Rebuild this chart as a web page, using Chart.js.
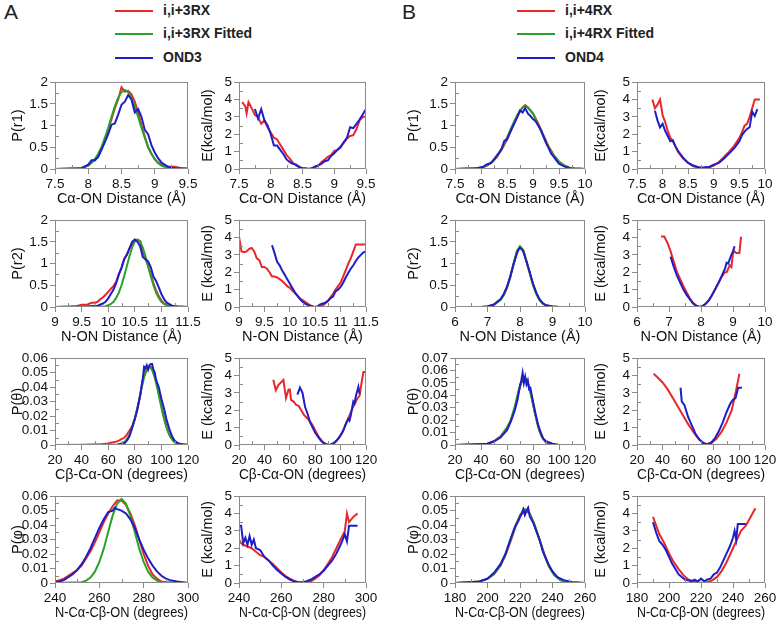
<!DOCTYPE html>
<html>
<head>
<meta charset="utf-8">
<script src="https://cdn.jsdelivr.net/npm/chart.js@4.4.1/dist/chart.umd.min.js"></script>
<style>
  body { margin: 0; background: #fff; width: 779px; height: 627px; position: relative; overflow: hidden;
         font-family: 'Liberation Sans', Arial, sans-serif; }
  canvas { position: absolute; }
  .lab { position: absolute; font-size: 21px; color: #222; }
  .leg { position: absolute; font-size: 14px; font-weight: bold; color: #222; }
  .legline { position: absolute; height: 2px; width: 38px; }
</style>
</head>
<body>
<div class="lab" style="left:4px;top:0px">A</div>
<div class="lab" style="left:402px;top:0px">B</div>
<script>
// ---- colours ----
const RED = "#e8272b";
const GREEN = "#27a327";
const BLUE = "#1d1dc9";

// ---- legend labels ----
const legendA = ["i,i+3RX", "i,i+3RX Fitted", "OND3"];
const legendB = ["i,i+4RX", "i,i+4RX Fitted", "OND4"];

// ===== A, row 1 : P(r1) =====
const a1RedX = [7.5,7.6,7.7,7.8,7.9,8.0,8.05,8.1,8.15,8.2,8.25,8.3,8.35,8.4,8.45,8.5,8.55,8.6,8.65,8.7,8.75,8.8,8.85,8.9,8.95,9.0,9.05,9.1,9.2,9.3,9.4,9.5];
const a1RedY = [0,0,0,0,0.02,0.08,0.18,0.2,0.3,0.45,0.65,0.9,1.15,1.4,1.6,1.88,1.78,1.8,1.72,1.55,1.3,1.0,0.75,0.5,0.35,0.22,0.15,0.1,0.05,0.05,0.02,0.02];
const a1GreenX = [7.5,7.9,8.0,8.05,8.1,8.15,8.2,8.25,8.3,8.35,8.4,8.45,8.5,8.55,8.6,8.65,8.7,8.75,8.8,8.85,8.9,8.95,9.0,9.05,9.1,9.2,9.3,9.5];
const a1GreenY = [0,0.02,0.08,0.14,0.23,0.35,0.51,0.72,0.95,1.2,1.44,1.64,1.77,1.82,1.77,1.64,1.44,1.2,0.95,0.72,0.51,0.35,0.23,0.14,0.08,0.02,0,0];
const a1BlueX = [7.5,7.9,8.0,8.05,8.1,8.15,8.2,8.25,8.3,8.35,8.4,8.45,8.5,8.55,8.6,8.65,8.7,8.75,8.8,8.85,8.9,8.95,9.0,9.05,9.1,9.2,9.3,9.4,9.5];
const a1BlueY = [0,0.02,0.1,0.2,0.2,0.28,0.45,0.62,0.8,1.02,1.05,1.25,1.48,1.55,1.7,1.6,1.3,1.38,1.2,0.9,0.8,0.55,0.38,0.25,0.15,0.05,0.02,0.01,0];

// ===== A, row 1 : E =====
const a2RedX = [7.55,7.6,7.62,7.65,7.7,7.75,7.8,7.85,7.9,7.95,8.0,8.05,8.1,8.15,8.2,8.25,8.3,8.35,8.4,8.45,8.5,8.55,8.6,8.65,8.7,8.75,8.8,8.85,8.9,8.95,9.0,9.05,9.1,9.15,9.2,9.25,9.3,9.35,9.4,9.45,9.5];
const a2RedY = [3.85,3.6,3.2,3.85,3.5,3.1,3.0,2.6,2.8,2.4,2.1,1.8,1.7,1.4,1.1,0.8,0.6,0.35,0.2,0.1,0,0.02,0,0.05,0.1,0.2,0.4,0.55,0.7,0.8,1.05,1.1,1.3,1.5,1.75,1.9,1.95,2.3,2.8,3.0,3.0];
const a2BlueX = [7.75,7.8,7.85,7.9,7.95,8.0,8.05,8.1,8.15,8.2,8.25,8.3,8.35,8.4,8.45,8.5,8.55,8.6,8.65,8.7,8.75,8.8,8.85,8.9,8.95,9.0,9.05,9.1,9.15,9.2,9.25,9.3,9.35,9.4,9.45,9.5];
const a2BlueY = [3.45,2.9,3.45,2.8,2.5,2.0,1.35,1.35,1.1,0.85,0.55,0.4,0.3,0.25,0.12,0.05,0.05,0,0.05,0.15,0.2,0.3,0.45,0.5,0.75,0.9,1.1,1.25,1.55,1.8,2.4,2.35,2.6,2.85,3.15,3.45];

// ===== A, row 2 : P(r2) =====
const a3RedX = [9.0,9.3,9.4,9.5,9.6,9.65,9.7,9.75,9.8,9.85,9.9,9.95,10.0,10.05,10.1,10.15,10.2,10.25,10.3,10.35,10.4,10.45,10.5,10.55,10.6,10.65,10.7,10.75,10.8,10.85,10.9,10.95,11.0,11.05,11.1,11.2,11.5];
const a3RedY = [0,0.01,0.02,0.05,0.05,0.08,0.1,0.1,0.12,0.18,0.22,0.28,0.35,0.42,0.48,0.58,0.75,0.9,1.1,1.2,1.35,1.45,1.55,1.55,1.52,1.3,1.1,0.95,0.75,0.55,0.38,0.25,0.15,0.08,0.04,0.01,0];
const a3GreenX = [9.0,9.9,9.95,10.0,10.05,10.1,10.15,10.2,10.25,10.3,10.35,10.4,10.45,10.5,10.55,10.6,10.65,10.7,10.75,10.8,10.85,10.9,10.95,11.0,11.05,11.1,11.2,11.5];
const a3GreenY = [0,0.01,0.02,0.04,0.07,0.12,0.21,0.33,0.5,0.71,0.94,1.17,1.37,1.51,1.55,1.51,1.37,1.17,0.94,0.71,0.5,0.33,0.21,0.12,0.07,0.04,0.01,0];
const a3BlueX = [9.0,9.6,9.8,9.9,9.95,10.0,10.05,10.1,10.15,10.2,10.25,10.3,10.35,10.4,10.45,10.5,10.55,10.6,10.65,10.7,10.75,10.8,10.85,10.9,10.95,11.0,11.05,11.1,11.2,11.3,11.5];
const a3BlueY = [0,0.01,0.03,0.08,0.12,0.2,0.3,0.4,0.55,0.75,0.9,1.1,1.2,1.35,1.5,1.55,1.5,1.4,1.15,1.1,1.05,0.92,0.7,0.6,0.45,0.3,0.18,0.1,0.03,0.01,0];

// ===== A, row 2 : E =====
const a4RedX = [9.0,9.05,9.1,9.15,9.2,9.25,9.3,9.35,9.4,9.45,9.5,9.55,9.6,9.65,9.7,9.75,9.8,9.85,9.9,9.95,10.0,10.05,10.1,10.15,10.2,10.25,10.3,10.35,10.4,10.45,10.5,10.55,10.6,10.65,10.7,10.75,10.8,10.85,10.9,10.95,11.0,11.05,11.1,11.15,11.2,11.25,11.3,11.35,11.4,11.45,11.5];
const a4RedY = [4.05,3.2,3.15,3.2,3.35,3.4,3.2,2.8,2.7,2.3,2.3,2.2,2.0,1.75,1.75,1.7,1.6,1.5,1.35,1.2,1.1,0.95,0.8,0.65,0.5,0.4,0.3,0.2,0.1,0.05,0,0.02,0.05,0.1,0.2,0.35,0.55,0.75,1.0,1.2,1.4,1.75,2.1,2.5,2.8,3.2,3.6,3.6,3.6,3.6,3.6];
const a4BlueX = [9.65,9.7,9.75,9.8,9.85,9.9,9.95,10.0,10.05,10.1,10.15,10.2,10.25,10.3,10.35,10.4,10.45,10.5,10.55,10.6,10.65,10.7,10.75,10.8,10.85,10.9,10.95,11.0,11.05,11.1,11.15,11.2,11.25,11.3,11.35,11.4,11.45,11.5];
const a4BlueY = [3.55,3.1,2.6,2.4,2.1,1.85,1.6,1.35,1.1,0.85,0.65,0.45,0.3,0.2,0.12,0.05,0.02,0,0.05,0.15,0.2,0.25,0.35,0.5,0.6,0.9,1.0,1.15,1.4,1.7,1.95,2.2,2.4,2.65,2.85,3.0,3.15,3.2];

// ===== A, row 3 : P(theta) =====
const a5RedX = [20,40,50,55,60,62,65,68,70,72,74,76,78,80,82,84,86,88,90,92,94,96,98,100,102,104,106,108,110,112,115,120];
const a5RedY = [0,0,0.0003,0.0005,0.001,0.0015,0.002,0.003,0.004,0.005,0.007,0.01,0.013,0.018,0.025,0.034,0.045,0.053,0.054,0.054,0.05,0.044,0.036,0.027,0.019,0.012,0.007,0.004,0.002,0.001,0.0005,0];
const a5GreenX = [20,67,71,73,75,77,79,81,83,85,87,89,91,93,95,97,99,101,103,105,107,109,111,115,120];
const a5GreenY = [0,0.0003,0.0014,0.0028,0.0052,0.009,0.0145,0.0217,0.0301,0.0389,0.0467,0.052,0.054,0.052,0.0467,0.0389,0.0301,0.0217,0.0145,0.009,0.0052,0.0028,0.0014,0.0003,0];
const a5BlueX = [20,60,66,70,72,74,76,78,80,82,84,86,87,88,89,90,91,92,93,94,95,96,98,99,100,102,104,106,108,110,112,114,116,120];
const a5BlueY = [0,0,0,0.0005,0.001,0.003,0.006,0.012,0.018,0.025,0.034,0.046,0.054,0.053,0.055,0.052,0.055,0.056,0.056,0.052,0.05,0.045,0.04,0.036,0.032,0.025,0.017,0.011,0.006,0.003,0.0015,0.0008,0.0005,0];

// ===== A, row 3 : E =====
const a6RedX = [47,49,51,53,55,57,59,60,61,63,65,67,69,71,73,75,77,79,81,83,85,87,89,91,93,95,97,99,101,103,105,107,109,111,113,115,117,118,120];
const a6RedY = [3.75,3.15,3.45,3.6,3.75,2.7,3.2,3.2,2.6,2.5,2.3,2.25,2.0,1.75,1.6,1.45,1.25,1.0,0.7,0.45,0.25,0.1,0.05,0,0.05,0.1,0.25,0.45,0.7,1.0,1.35,1.7,2.05,2.35,2.65,2.85,3.8,4.2,4.2];
const a6BlueX = [66,68,70,72,74,76,78,80,82,84,86,88,90,92,94,96,98,100,102,104,106,107,108,110,111,112,114,115];
const a6BlueY = [2.9,3.3,3.0,2.2,1.8,1.3,1.0,0.7,0.5,0.3,0.15,0.05,0,0.02,0.1,0.2,0.35,0.55,0.8,1.2,1.5,1.4,1.7,2.5,2.4,2.8,3.35,2.95];

// ===== A, row 4 : P(phi) =====
const a7RedX = [240,242,244,246,248,250,252,254,256,258,260,262,264,266,268,270,272,274,276,278,280,282,284,286,288,290,295,300];
const a7RedY = [0.001,0.002,0.003,0.005,0.007,0.009,0.012,0.017,0.022,0.028,0.035,0.042,0.048,0.053,0.057,0.057,0.054,0.048,0.04,0.03,0.02,0.012,0.006,0.003,0.001,0.0005,0,0];
const a7GreenX = [240,252,254,256,258,260,262,264,266,268,270,272,274,276,278,280,282,284,286,288,300];
const a7GreenY = [0,0.0006,0.0016,0.0038,0.0078,0.0145,0.0237,0.0352,0.0465,0.0548,0.058,0.0548,0.0465,0.0352,0.0237,0.0145,0.0078,0.0038,0.0016,0.0006,0];
const a7BlueX = [240,242,244,246,248,250,252,254,256,258,260,262,264,266,267,268,270,272,274,276,278,280,282,284,286,288,290,292,295,300];
const a7BlueY = [0.0005,0.001,0.002,0.004,0.006,0.009,0.013,0.018,0.024,0.031,0.038,0.044,0.049,0.05,0.052,0.051,0.05,0.048,0.044,0.038,0.03,0.023,0.017,0.012,0.008,0.005,0.003,0.002,0.001,0];

// ===== A, row 4 : E =====
const a8RedX = [240,242,244,246,248,250,252,254,256,258,260,262,264,266,268,270,272,274,276,278,280,282,284,286,288,290,291,292,294,296];
const a8RedY = [2.4,2.2,2.1,2.0,1.8,1.6,1.5,1.3,1.1,0.85,0.6,0.4,0.25,0.12,0.05,0,0.05,0.1,0.25,0.45,0.75,1.1,1.5,2.0,2.5,3.0,4.0,3.5,3.8,4.0];
const a8BlueX = [240,241,242,243,244,245,246,247,248,250,252,254,256,258,260,262,264,266,268,270,272,274,276,278,280,282,284,286,288,290,291,292,294,296];
const a8BlueY = [3.3,3.3,2.3,2.6,2.2,2.7,2.2,2.5,2.0,1.9,1.5,1.3,1.0,0.75,0.55,0.35,0.2,0.1,0.05,0.05,0.1,0.2,0.35,0.5,0.7,1.0,1.3,1.7,2.2,2.8,2.4,3.3,3.3,3.3];

// ===== B, row 1 : P(r1) =====
const b1RedX = [7.5,7.9,8.0,8.1,8.2,8.3,8.4,8.5,8.6,8.7,8.8,8.85,8.9,9.0,9.1,9.2,9.3,9.4,9.5,9.6,9.7,9.8,10.0];
const b1RedY = [0,0.01,0.03,0.07,0.14,0.27,0.45,0.68,0.95,1.22,1.42,1.47,1.42,1.28,1.05,0.78,0.52,0.32,0.17,0.08,0.03,0.01,0];
const b1GreenX = [7.5,8.0,8.1,8.2,8.3,8.4,8.5,8.6,8.7,8.8,8.85,8.9,9.0,9.1,9.2,9.3,9.4,9.5,9.6,9.7,9.8,10.0];
const b1GreenY = [0,0.03,0.07,0.15,0.28,0.47,0.72,1.0,1.25,1.42,1.45,1.42,1.27,1.02,0.75,0.5,0.3,0.16,0.08,0.03,0.01,0];
const b1BlueX = [7.5,7.9,8.0,8.05,8.1,8.15,8.2,8.25,8.3,8.35,8.4,8.45,8.5,8.55,8.6,8.65,8.7,8.75,8.8,8.85,8.9,8.95,9.0,9.05,9.1,9.15,9.2,9.25,9.3,9.35,9.4,9.45,9.5,9.6,9.7,9.8,10.0];
const b1BlueY = [0,0.01,0.04,0.05,0.1,0.12,0.15,0.22,0.3,0.38,0.48,0.65,0.68,0.82,0.95,1.08,1.2,1.35,1.3,1.4,1.28,1.22,1.15,1.1,1.0,0.9,0.75,0.6,0.48,0.35,0.28,0.2,0.12,0.06,0.02,0.01,0];

// ===== B, row 1 : E =====
const b2RedX = [7.8,7.85,7.9,7.95,8.0,8.05,8.1,8.15,8.2,8.25,8.3,8.35,8.4,8.5,8.6,8.7,8.8,8.85,8.9,9.0,9.1,9.2,9.3,9.4,9.5,9.55,9.6,9.65,9.7,9.75,9.8,9.85,9.9];
const b2RedY = [4.0,3.5,3.7,4.0,3.1,2.7,2.2,1.8,1.6,1.3,1.0,0.8,0.6,0.35,0.15,0.08,0.05,0.03,0.08,0.2,0.4,0.7,1.0,1.35,1.8,2.1,2.5,2.6,3.0,3.5,4.0,4.0,4.0];
const b2BlueX = [7.85,7.9,7.95,8.0,8.05,8.1,8.15,8.2,8.25,8.3,8.35,8.4,8.5,8.6,8.7,8.8,8.85,8.9,9.0,9.1,9.2,9.3,9.4,9.5,9.55,9.6,9.65,9.7,9.75,9.8,9.85];
const b2BlueY = [3.35,2.8,2.4,2.6,2.2,1.9,1.6,1.65,1.3,1.05,0.85,0.65,0.35,0.2,0.1,0.08,0.12,0.1,0.25,0.35,0.6,0.9,1.2,1.6,1.95,2.15,2.3,2.4,3.3,3.05,3.45];

// ===== B, row 2 : P(r2) =====
const b3RedX = [6.0,6.8,7.0,7.2,7.4,7.5,7.6,7.7,7.8,7.9,8.0,8.1,8.2,8.3,8.4,8.5,8.6,8.7,8.8,9.0,9.2,10.0];
const b3RedY = [0,0,0.01,0.05,0.17,0.28,0.45,0.68,0.98,1.25,1.38,1.3,1.05,0.78,0.52,0.32,0.17,0.08,0.04,0.01,0,0];
const b3GreenX = [6.0,6.8,7.0,7.2,7.4,7.5,7.6,7.7,7.8,7.9,8.0,8.1,8.2,8.3,8.4,8.5,8.6,8.7,8.8,9.0,9.2,10.0];
const b3GreenY = [0,0,0.01,0.05,0.16,0.27,0.44,0.69,1.0,1.28,1.4,1.31,1.06,0.78,0.5,0.3,0.16,0.08,0.03,0.01,0,0];
const b3BlueX = [6.0,6.8,7.0,7.2,7.4,7.5,7.6,7.7,7.8,7.9,7.95,8.0,8.05,8.1,8.2,8.3,8.4,8.5,8.6,8.7,8.8,9.0,9.2,10.0];
const b3BlueY = [0,0,0.01,0.06,0.18,0.3,0.47,0.7,0.98,1.22,1.32,1.36,1.33,1.28,1.04,0.8,0.54,0.33,0.18,0.09,0.04,0.01,0,0];

// ===== B, row 2 : E =====
const b4RedX = [6.75,6.85,6.95,7.05,7.15,7.25,7.35,7.45,7.55,7.65,7.75,7.85,7.95,8.05,8.15,8.25,8.35,8.45,8.55,8.65,8.75,8.8,8.9,8.95,9.0,9.05,9.1,9.2,9.25];
const b4RedY = [4.05,4.05,3.7,3.2,2.6,2.0,1.6,1.2,0.85,0.5,0.25,0.08,0,0.05,0.2,0.4,0.7,1.05,1.4,1.75,2.0,2.0,2.4,2.3,3.1,3.2,3.1,3.1,4.05];
const b4BlueX = [7.05,7.15,7.25,7.35,7.45,7.55,7.65,7.75,7.85,7.95,8.05,8.15,8.25,8.35,8.45,8.55,8.65,8.75,8.8,8.85,8.9,8.95,9.0,9.05];
const b4BlueY = [2.9,2.3,1.8,1.4,1.0,0.7,0.45,0.2,0.08,0,0.05,0.18,0.4,0.7,1.05,1.4,1.8,2.2,2.55,2.5,2.75,3.0,3.2,3.5];

// ===== B, row 3 : P(theta) =====
const b5RedX = [20,40,45,50,55,60,63,66,69,71,73,75,77,79,81,83,85,87,90,95,100,120];
const b5RedY = [0,0.0005,0.001,0.003,0.007,0.014,0.02,0.03,0.043,0.05,0.053,0.052,0.047,0.038,0.028,0.019,0.011,0.006,0.002,0.0005,0,0];
const b5GreenX = [20,40,45,50,55,60,63,66,69,71,73,75,77,79,81,83,85,87,90,95,100,120];
const b5GreenY = [0,0.0004,0.001,0.0028,0.0068,0.0138,0.0205,0.031,0.044,0.051,0.055,0.053,0.047,0.038,0.028,0.019,0.0115,0.0063,0.0022,0.0004,0,0];
const b5BlueX = [20,45,50,55,60,63,66,68,70,71,72,73,74,75,76,77,78,80,82,84,86,88,90,95,100,120];
const b5BlueY = [0,0.001,0.003,0.006,0.012,0.019,0.028,0.036,0.048,0.052,0.058,0.05,0.055,0.049,0.052,0.045,0.046,0.035,0.025,0.016,0.01,0.005,0.003,0.001,0,0];

// ===== B, row 3 : E =====
const b6RedX = [33,36,40,44,48,52,56,60,64,68,72,75,78,82,86,90,94,97,100];
const b6RedY = [4.1,3.9,3.6,3.2,2.7,2.2,1.7,1.2,0.75,0.35,0.1,0.05,0.1,0.35,0.75,1.3,2.0,3.0,4.1];
const b6BlueX = [54,55,57,60,63,66,69,72,75,78,81,84,87,90,93,95,97,99,102];
const b6BlueY = [3.3,2.5,2.3,1.6,1.1,0.6,0.3,0.1,0.05,0.15,0.4,0.8,1.3,1.9,2.4,2.6,2.7,3.3,3.3];

// ===== B, row 4 : P(phi) =====
const b7RedX = [180,190,195,200,204,208,211,214,217,220,223,226,229,232,235,238,241,245,250,260];
const b7RedY = [0,0.0005,0.001,0.003,0.006,0.012,0.019,0.028,0.038,0.046,0.05,0.048,0.04,0.03,0.02,0.011,0.006,0.002,0.0005,0];
const b7GreenX = [180,190,195,200,204,208,211,214,217,220,223,226,229,232,235,238,241,245,250,260];
const b7GreenY = [0,0.0004,0.001,0.0028,0.0062,0.0125,0.0195,0.029,0.039,0.047,0.051,0.048,0.04,0.03,0.0195,0.011,0.0055,0.0018,0.0004,0];
const b7BlueX = [180,195,200,204,208,211,214,217,219,221,222,223,224,225,226,228,230,232,234,237,240,243,247,252,260];
const b7BlueY = [0,0.001,0.003,0.007,0.013,0.02,0.03,0.039,0.043,0.048,0.051,0.047,0.05,0.052,0.046,0.042,0.036,0.03,0.022,0.014,0.008,0.004,0.002,0.0005,0];

// ===== B, row 4 : E =====
const b8RedX = [190,192,194,197,200,203,206,209,212,215,218,221,224,227,230,233,236,239,242,245,248,251,254];
const b8RedY = [3.8,3.3,2.8,2.3,1.7,1.2,0.8,0.45,0.2,0.1,0.05,0,0.05,0.15,0.35,0.7,1.2,1.8,2.4,3.0,3.3,3.8,4.3];
const b8BlueX = [190,191,192,194,196,198,200,202,204,206,208,210,212,214,216,218,220,222,224,226,228,230,232,234,236,238,240,241,242,243,246,248];
const b8BlueY = [3.5,3.2,2.9,2.4,2.2,1.9,1.5,1.1,0.8,0.5,0.35,0.2,0.15,0.1,0.2,0.1,0.25,0.1,0.2,0.25,0.5,0.6,0.9,1.3,1.7,2.1,2.6,3.0,2.5,3.4,3.4,3.4];

// ---- axis titles ----
const xTitles = ["Cα-ON Distance (Å)", "N-ON Distance (Å)", "Cβ-Cα-ON (degrees)", "N-Cα-Cβ-ON (degrees)"];

// ---- panel layout (plot-area box in page pixels) ----
const colLeft = [55, 239, 455, 637];
const colWidth = [133, 127, 130, 128];
const colYAxisW = [50, 44, 54, 49];
const rowTop = [82, 220, 358, 496];
const PLOT_H = 87;

const panels = [
  {c:0,r:0, x:[7.5,9.5,0.5], y:[0,2,0.5], yt:"P(r1)", s:[[a1RedX,a1RedY,RED],[a1GreenX,a1GreenY,GREEN],[a1BlueX,a1BlueY,BLUE]]},
  {c:1,r:0, x:[7.5,9.5,0.5], y:[0,5,1], yt:"E(kcal/mol)", s:[[a2RedX,a2RedY,RED],[a2BlueX,a2BlueY,BLUE]]},
  {c:0,r:1, x:[9,11.5,0.5], y:[0,2,0.5], yt:"P(r2)", s:[[a3RedX,a3RedY,RED],[a3GreenX,a3GreenY,GREEN],[a3BlueX,a3BlueY,BLUE]]},
  {c:1,r:1, x:[9,11.5,0.5], y:[0,5,1], yt:"E (kcal/mol)", s:[[a4RedX,a4RedY,RED],[a4BlueX,a4BlueY,BLUE]]},
  {c:0,r:2, x:[20,120,20], y:[0,0.06,0.01], yt:"P(θ)", s:[[a5RedX,a5RedY,RED],[a5GreenX,a5GreenY,GREEN],[a5BlueX,a5BlueY,BLUE]]},
  {c:1,r:2, x:[20,120,20], y:[0,5,1], yt:"E (kcal/mol)", s:[[a6RedX,a6RedY,RED],[a6BlueX,a6BlueY,BLUE]]},
  {c:0,r:3, x:[240,300,20], y:[0,0.06,0.01], yt:"P(φ)", s:[[a7RedX,a7RedY,RED],[a7GreenX,a7GreenY,GREEN],[a7BlueX,a7BlueY,BLUE]]},
  {c:1,r:3, x:[240,300,20], y:[0,5,1], yt:"E (kcal/mol)", s:[[a8RedX,a8RedY,RED],[a8BlueX,a8BlueY,BLUE]]},
  {c:2,r:0, x:[7.5,10,0.5], y:[0,2,0.5], yt:"P(r1)", s:[[b1RedX,b1RedY,RED],[b1GreenX,b1GreenY,GREEN],[b1BlueX,b1BlueY,BLUE]]},
  {c:3,r:0, x:[7.5,10,0.5], y:[0,5,1], yt:"E(kcal/mol)", s:[[b2RedX,b2RedY,RED],[b2BlueX,b2BlueY,BLUE]]},
  {c:2,r:1, x:[6,10,1], y:[0,2,0.5], yt:"P(r2)", s:[[b3RedX,b3RedY,RED],[b3GreenX,b3GreenY,GREEN],[b3BlueX,b3BlueY,BLUE]]},
  {c:3,r:1, x:[6,10,1], y:[0,5,1], yt:"E (kcal/mol)", s:[[b4RedX,b4RedY,RED],[b4BlueX,b4BlueY,BLUE]]},
  {c:2,r:2, x:[20,120,20], y:[0,0.07,0.01], yt:"P(θ)", s:[[b5RedX,b5RedY,RED],[b5GreenX,b5GreenY,GREEN],[b5BlueX,b5BlueY,BLUE]]},
  {c:3,r:2, x:[20,120,20], y:[0,5,1], yt:"E (kcal/mol)", s:[[b6RedX,b6RedY,RED],[b6BlueX,b6BlueY,BLUE]]},
  {c:2,r:3, x:[180,260,20], y:[0,0.06,0.01], yt:"P(φ)", s:[[b7RedX,b7RedY,RED],[b7GreenX,b7GreenY,GREEN],[b7BlueX,b7BlueY,BLUE]]},
  {c:3,r:3, x:[180,260,20], y:[0,5,1], yt:"E (kcal/mol)", s:[[b8RedX,b8RedY,RED],[b8BlueX,b8BlueY,BLUE]]},
];

const FONT = "'Liberation Sans', Arial, sans-serif";
const AXIS = "#8a8a8a";
const TOP_PAD = 10, RIGHT_PAD = 16, X_AXIS_H = 43;

// frame round the plot + small inward minor ticks (half of major step)
const framePlugin = {
  id: "frame",
  afterDatasetsDraw(chart) {
    const { ctx, chartArea: a, scales } = chart;
    ctx.save();
    ctx.strokeStyle = AXIS;
    ctx.lineWidth = 1;
    ctx.strokeRect(Math.round(a.left) + 0.5, Math.round(a.top) + 0.5,
                   Math.round(a.right - a.left) - 1, Math.round(a.bottom - a.top) - 1);
    const x = scales.x, y = scales.y;
    const xs = x.options.ticks.stepSize / 2, ys = y.options.ticks.stepSize / 2;
    ctx.beginPath();
    for (let v = x.min + xs; v < x.max; v += 2 * xs) {
      const px = Math.round(x.getPixelForValue(v)) + 0.5;
      ctx.moveTo(px, a.bottom); ctx.lineTo(px, a.bottom - 4);
    }
    for (let v = y.min + ys; v < y.max; v += 2 * ys) {
      const py = Math.round(y.getPixelForValue(v)) + 0.5;
      ctx.moveTo(a.left, py); ctx.lineTo(a.left + 4, py);
    }
    ctx.stroke();
    ctx.restore();
  }
};

const fmt = (v) => String(+(+v).toFixed(3));

panels.forEach((p) => {
  const yW = colYAxisW[p.c];
  const cv = document.createElement("canvas");
  cv.width = yW + colWidth[p.c] + RIGHT_PAD;
  cv.height = TOP_PAD + PLOT_H + X_AXIS_H;
  cv.style.left = (colLeft[p.c] - yW) + "px";
  cv.style.top = (rowTop[p.r] - TOP_PAD) + "px";
  document.body.appendChild(cv);

  // Chart.js paints dataset 0 last, so reverse to keep blue on top
  const sets = p.s.map(([xs, ys, col]) => ({
    data: xs.map((xv, i) => ({ x: xv, y: ys[i] })),
    borderColor: col,
    borderWidth: 2,
    pointRadius: 0,
    tension: 0,
    fill: false,
  })).reverse();

  new Chart(cv, {
    type: "line",
    data: { datasets: sets },
    options: {
      responsive: false,
      animation: false,
      devicePixelRatio: 1,
      layout: { padding: { top: TOP_PAD, right: RIGHT_PAD, left: 0, bottom: 0 } },
      plugins: { legend: { display: false }, tooltip: { enabled: false } },
      scales: {
        x: {
          type: "linear",
          min: p.x[0], max: p.x[1],
          afterFit: (s) => { s.height = X_AXIS_H; },
          border: { display: false },
          grid: { drawOnChartArea: false, tickLength: 5, color: AXIS },
          ticks: { stepSize: p.x[2], autoSkip: false, maxRotation: 0, color: "#111",
                   font: { family: FONT, size: 13.5 }, padding: 2, callback: fmt },
          title: { display: true, text: xTitles[p.r], color: "#111",
                   font: { family: FONT, size: 14.5 }, padding: { top: 0, bottom: 4 } },
        },
        y: {
          type: "linear",
          min: p.y[0], max: p.y[1],
          afterFit: (s) => { s.width = yW; },
          border: { display: false },
          grid: { drawOnChartArea: false, tickLength: 5, color: AXIS },
          ticks: { stepSize: p.y[2], autoSkip: false, color: "#111",
                   font: { family: FONT, size: 13.5 }, padding: 2, callback: fmt },
          title: { display: true, text: p.yt, color: "#111",
                   font: { family: FONT, size: 14.5 }, padding: { top: 4, bottom: 0 } },
        },
      },
    },
    plugins: [framePlugin],
  });
});

// ---- legends ----
function buildLegend(labels, lineLeft, textLeft) {
  const rowsY = [11, 34, 58];
  const cols = [RED, GREEN, BLUE];
  labels.forEach((t, i) => {
    const l = document.createElement("div");
    l.className = "legline";
    l.style.left = lineLeft + "px";
    l.style.top = (rowsY[i] - 1) + "px";
    l.style.background = cols[i];
    document.body.appendChild(l);
    const d = document.createElement("div");
    d.className = "leg";
    d.textContent = t;
    d.style.left = textLeft + "px";
    d.style.top = (rowsY[i] - 9) + "px";
    document.body.appendChild(d);
  });
}
buildLegend(legendA, 115, 163);
buildLegend(legendB, 517, 565);
</script>
</body>
</html>
